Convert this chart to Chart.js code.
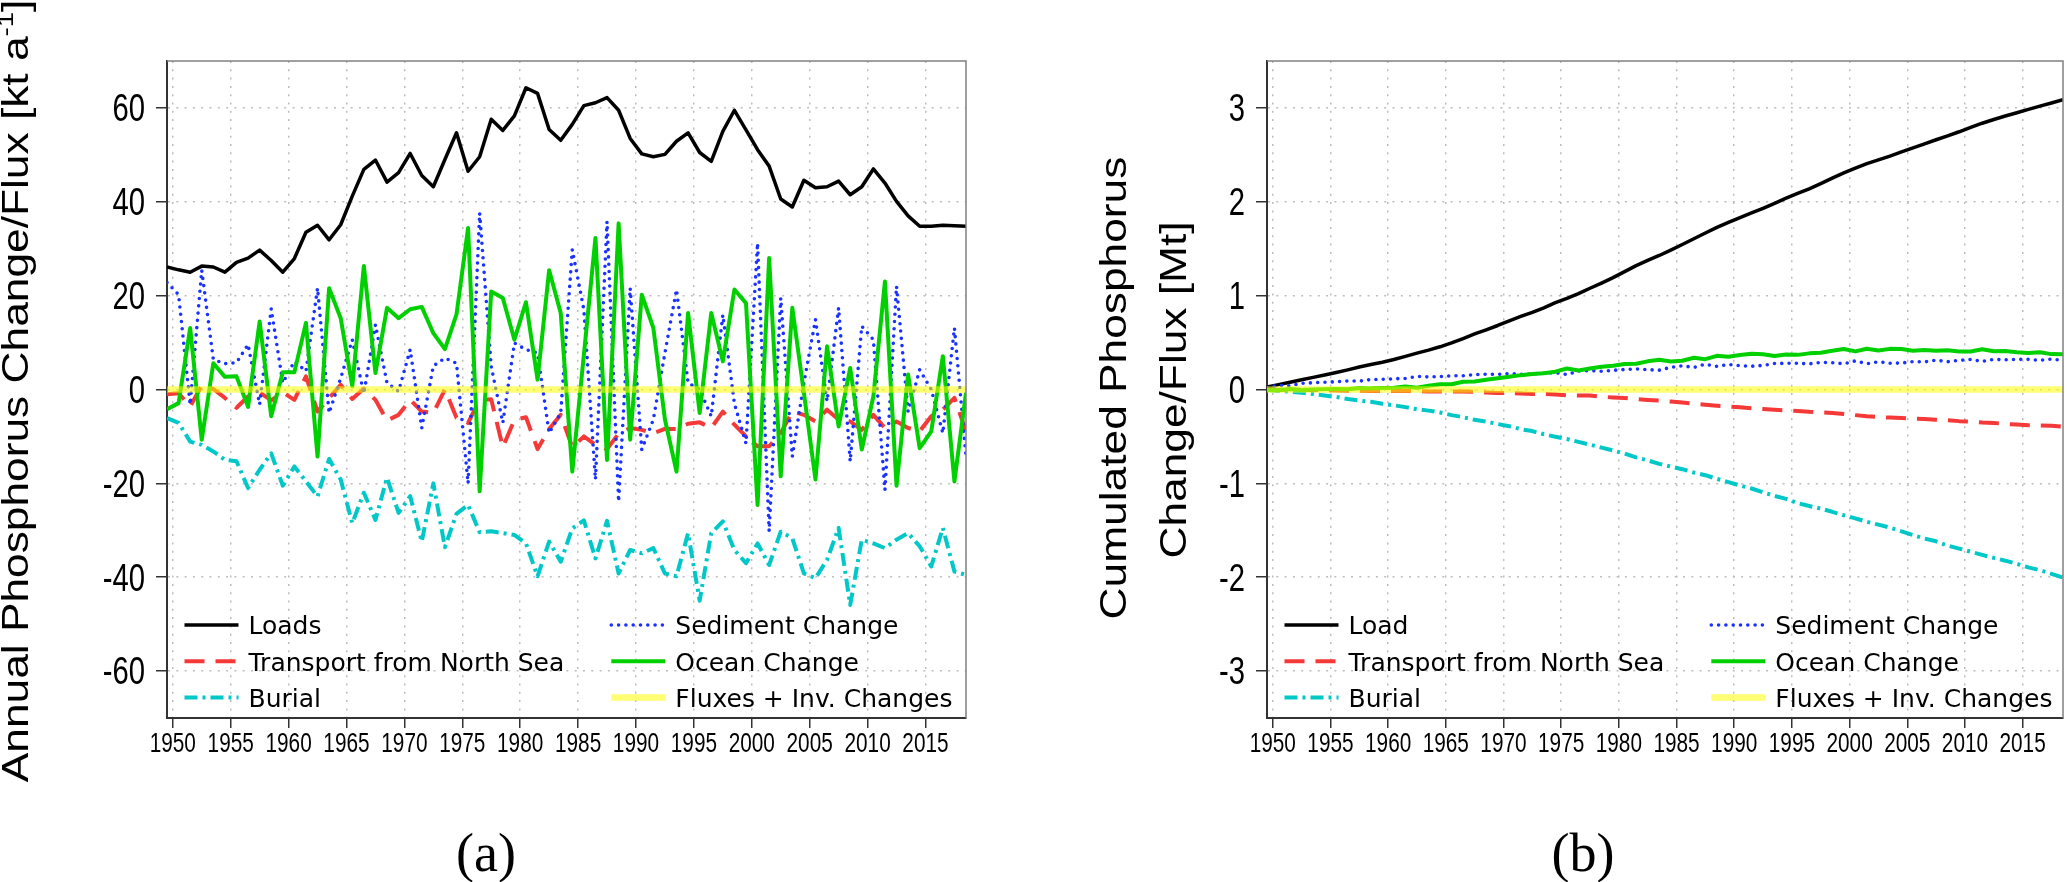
<!DOCTYPE html>
<html>
<head>
<meta charset="utf-8">
<title>Phosphorus budget</title>
<script src="https://cdn.jsdelivr.net/npm/chart.js@4.4.1/dist/chart.umd.min.js"></script>
<style>
  html, body { margin: 0; padding: 0; background: #fff; }
  body { width: 2067px; height: 882px; position: relative; overflow: hidden; }
  canvas { position: absolute; top: 0; }
  #chartA { left: 0; }
  #chartB { left: 1000px; }
  .panel { position: absolute; top: 826px; line-height: 1; font-family: 'Liberation Serif', 'DejaVu Serif', serif; font-size: 54px; transform: translateX(-50%); }
</style>
</head>
<body>
<canvas id="chartA" width="1000" height="882"></canvas>
<canvas id="chartB" width="1067" height="882"></canvas>
<div class="panel" style="left:486px">(a)</div>
<div class="panel" style="left:1583px">(b)</div>
<script>
// Years of the budget, plotted at mid-year
const years = [1949,1950,1951,1952,1953,1954,1955,1956,1957,1958,1959,1960,1961,1962,1963,1964,1965,1966,1967,1968,
  1969,1970,1971,1972,1973,1974,1975,1976,1977,1978,1979,1980,1981,1982,1983,1984,1985,1986,1987,1988,
  1989,1990,1991,1992,1993,1994,1995,1996,1997,1998,1999,2000,2001,2002,2003,2004,2005,2006,2007,2008,
  2009,2010,2011,2012,2013,2014,2015,2016,2017,2018];

// Panel (a): annual change / flux, kt per year
const loads = [26.1,25.5,25.0,26.3,26.1,25.0,27.1,28.0,29.7,27.5,25.0,27.9,33.5,35.0,31.9,35.1,41.2,46.9,48.9,44.2,
  46.2,50.3,45.6,43.2,49.0,54.7,46.5,49.6,57.6,55.2,58.3,64.3,63.1,55.4,53.1,56.5,60.5,61.1,62.2,59.5,
  53.5,50.2,49.6,50.1,52.9,54.7,50.5,48.6,55.0,59.5,55.3,51.1,47.6,40.6,38.9,44.6,43.0,43.2,44.4,41.5,
  43.2,47.0,44.0,40.1,37.0,34.8,34.8,35.0,34.9,34.8];
const transport = [-1.0,-0.8,-3.6,0.8,0.1,-1.8,-3.9,-1.5,-0.6,-2.3,-0.6,-2.2,2.8,-4.7,-1.8,1.0,-2.0,0.2,-2.2,-6.6,
  -5.4,-2.2,-4.7,-5.0,0.0,-6.0,-7.1,-2.2,-2.1,-12.3,-6.5,-5.9,-12.7,-8.4,-5.4,-12.3,-10.0,-11.8,-12.7,-9.4,
  -8.2,-8.6,-9.3,-8.4,-8.4,-7.3,-7.0,-8.2,-4.7,-7.5,-10.0,-12.1,-12.1,-9.3,-4.7,-5.4,-6.8,-4.3,-6.4,-6.8,
  -8.6,-5.4,-8.2,-6.8,-8.2,-8.9,-5.7,-4.3,-1.8,-8.9];
const burial = [-6.1,-7.1,-11.1,-11.8,-13.2,-15.0,-15.3,-21.0,-17.1,-13.6,-20.5,-16.4,-19.6,-22.8,-14.8,-19.2,-28.5,-22.0,-27.8,-18.8,
  -26.3,-22.7,-32.4,-20.0,-33.6,-26.5,-24.6,-30.4,-30.2,-30.6,-31.0,-32.8,-39.8,-32.4,-36.7,-29.6,-27.9,-36.0,-28.0,-39.2,
  -34.2,-34.9,-33.8,-39.2,-39.8,-30.6,-45.0,-30.6,-28.1,-34.2,-37.0,-32.8,-37.4,-30.3,-31.7,-39.2,-40.2,-36.3,-29.5,-45.9,
  -32.0,-32.8,-33.8,-32.0,-30.6,-33.4,-37.7,-29.5,-38.8,-39.5];
const sediment = [22.8,20.2,-3.2,25.4,6.4,5.5,5.7,9.6,-3.2,17.2,1.4,6.0,3.9,21.6,-5.0,2.4,10.6,-0.9,13.8,1.4,
  -0.4,8.5,-8.2,5.0,6.7,5.6,-20.0,37.6,4.9,-7.1,9.9,8.5,7.8,-9.3,-5.0,29.8,17.0,-19.2,35.8,-23.9,
  21.6,-12.8,-6.4,7.8,21.3,1.4,0.0,-5.7,15.9,-3.0,-11.5,31.2,-30.2,19.5,-14.3,1.4,14.9,-2.5,17.4,-15.3,
  13.5,10.6,-21.4,22.0,-4.7,4.2,0.0,-9.3,13.1,-14.3];
const ocean = [-4.2,-2.9,13.1,-10.7,5.6,2.7,2.8,-3.7,14.5,-5.7,3.7,3.7,14.2,-14.3,21.6,15.2,0.7,26.3,3.5,17.4,
  15.2,17.1,17.6,12.0,8.6,16.0,34.4,-21.7,20.9,19.5,10.6,18.6,2.1,25.4,16.3,-17.5,7.4,32.3,-15.0,35.4,
  -10.7,20.2,13.1,-6.4,-17.5,16.3,-5.0,16.3,6.0,21.3,18.4,-24.6,28.0,-18.5,17.4,-0.7,-19.2,9.2,-7.9,4.6,
  -12.8,-1.5,23.0,-20.5,3.2,-12.5,-8.9,7.1,-19.6,-0.7];
const fluxes = [0,0,0,0,0,0,0,0,0,0,0,0,0,0,0,0,0,0,0,0,0,0,0,0,0,0,0,0,0,0,0,0,0,0,0,
  0,0,0,0,0,0,0,0,0,0,0,0,0,0,0,0,0,0,0,0,0,0,0,0,0,0,0,0,0,0,0,0,0,0,0];

// Panel (b): cumulated change / flux, Mt
const cumLoad = [0.026,0.052,0.077,0.103,0.129,0.154,0.181,0.209,0.239,0.266,0.291,0.319,0.353,0.388,0.420,0.455,0.496,0.543,0.592,0.636,
  0.682,0.732,0.778,0.821,0.870,0.925,0.971,1.021,1.079,1.134,1.192,1.256,1.320,1.375,1.428,1.485,1.545,1.606,1.668,1.728,
  1.781,1.832,1.881,1.931,1.984,2.039,2.089,2.138,2.193,2.252,2.308,2.359,2.406,2.447,2.486,2.531,2.574,2.617,2.661,2.703,
  2.746,2.793,2.837,2.877,2.914,2.949,2.984,3.019,3.053,3.088];
const cumTransport = [-0.001,-0.002,-0.005,-0.005,-0.005,-0.006,-0.010,-0.012,-0.012,-0.015,-0.015,-0.017,-0.015,-0.019,-0.021,-0.020,-0.022,-0.022,-0.024,-0.031,
  -0.036,-0.038,-0.043,-0.048,-0.048,-0.054,-0.061,-0.063,-0.065,-0.078,-0.084,-0.090,-0.103,-0.111,-0.117,-0.129,-0.139,-0.151,-0.163,-0.173,
  -0.181,-0.190,-0.199,-0.207,-0.216,-0.223,-0.230,-0.238,-0.243,-0.250,-0.260,-0.273,-0.285,-0.294,-0.299,-0.304,-0.311,-0.315,-0.322,-0.328,
  -0.337,-0.342,-0.351,-0.357,-0.366,-0.374,-0.380,-0.384,-0.386,-0.395];
const cumBurial = [-0.006,-0.013,-0.024,-0.036,-0.049,-0.064,-0.080,-0.101,-0.118,-0.131,-0.152,-0.168,-0.188,-0.211,-0.225,-0.245,-0.273,-0.295,-0.323,-0.342,
  -0.368,-0.391,-0.423,-0.443,-0.477,-0.503,-0.528,-0.558,-0.588,-0.619,-0.650,-0.683,-0.723,-0.755,-0.792,-0.821,-0.849,-0.885,-0.913,-0.952,
  -0.987,-1.022,-1.055,-1.095,-1.134,-1.165,-1.210,-1.241,-1.269,-1.303,-1.340,-1.373,-1.410,-1.440,-1.472,-1.511,-1.551,-1.588,-1.617,-1.663,
  -1.695,-1.728,-1.762,-1.794,-1.824,-1.858,-1.895,-1.925,-1.964,-2.003];
const cumSediment = [0.023,0.043,0.040,0.065,0.072,0.077,0.083,0.092,0.089,0.106,0.108,0.114,0.118,0.139,0.134,0.137,0.147,0.146,0.160,0.162,
  0.161,0.170,0.162,0.167,0.173,0.179,0.159,0.196,0.201,0.194,0.204,0.213,0.220,0.211,0.206,0.236,0.253,0.234,0.270,0.246,
  0.267,0.254,0.248,0.256,0.277,0.279,0.279,0.273,0.289,0.286,0.274,0.305,0.275,0.295,0.280,0.282,0.297,0.294,0.312,0.296,
  0.310,0.320,0.299,0.321,0.316,0.321,0.321,0.311,0.324,0.310];
const cumOcean = [-0.004,-0.007,0.006,-0.005,0.001,0.004,0.006,0.003,0.017,0.012,0.015,0.019,0.033,0.019,0.040,0.056,0.056,0.083,0.086,0.104,
  0.119,0.136,0.153,0.165,0.174,0.190,0.224,0.203,0.224,0.243,0.254,0.272,0.274,0.300,0.316,0.299,0.306,0.338,0.323,0.359,
  0.348,0.368,0.381,0.375,0.357,0.374,0.369,0.385,0.391,0.412,0.431,0.406,0.434,0.416,0.433,0.432,0.413,0.422,0.414,0.419,
  0.406,0.405,0.428,0.407,0.410,0.398,0.389,0.396,0.377,0.376];
const cumFluxes = [0,0,0,0,0,0,0,0,0,0,0,0,0,0,0,0,0,0,0,0,0,0,0,0,0,0,0,0,0,0,0,0,0,0,0,
  0,0,0,0,0,0,0,0,0,0,0,0,0,0,0,0,0,0,0,0,0,0,0,0,0,0,0,0,0,0,0,0,0,0,0];

const xTicks = [1950,1955,1960,1965,1970,1975,1980,1985,1990,1995,2000,2005,2010,2015];
const yTicksA = [-60,-40,-20,0,20,40,60];
const yTicksB = [-3,-2,-1,0,1,2,3];

// Line styles, one per budget term
const styleLoad = {color: '#000000', width: 3.5, dash: [], cap: 'butt'};
const styleTransport = {color: '#f53838', width: 4, dash: [20, 11], cap: 'butt'};
const styleBurial = {color: '#00c8c8', width: 4, dash: [13, 5, 3, 5], cap: 'butt'};
const styleSediment = {color: '#1a32ff', width: 3.6, dash: [0, 7.3], cap: 'round'};
const styleOcean = {color: '#00d000', width: 4, dash: [], cap: 'butt'};
const styleFluxes = {color: 'rgba(255,255,0,0.55)', width: 6.5, dash: [], cap: 'butt'};

const sans = "'Liberation Sans', Arial, sans-serif";

function series(label, values, style, order) {
  return {
    label: label,
    data: values.map(function(v, i) { return {x: years[i] + 0.5, y: v}; }),
    borderColor: style.color,
    borderWidth: style.width,
    borderDash: style.dash,
    borderCapStyle: style.cap,
    borderJoinStyle: 'round',
    pointRadius: 0,
    fill: false,
    tension: 0,
    order: order
  };
}

// Condensed text: the tick labels in the figure are tall and narrow
function narrowText(ctx, text, x, y, size, align) {
  ctx.save();
  ctx.font = size + 'px ' + sans;
  ctx.textBaseline = 'alphabetic';
  ctx.textAlign = align;
  ctx.translate(x, y);
  ctx.scale(0.77, 1);
  ctx.fillText(text, 0, 0);
  ctx.restore();
}

// Draws tick labels, the rotated axis title, the in-plot legend and the upper/right frame
function decor(cfg) {
  return {
    id: 'decor',
    afterDraw: function(chart) {
      let ctx = chart.ctx;
      let area = chart.chartArea;
      let xScale = chart.scales.x;
      let yScale = chart.scales.y;
      ctx.save();

      ctx.strokeStyle = '#808080';
      ctx.lineWidth = 1.5;
      ctx.setLineDash([]);
      ctx.beginPath();
      ctx.moveTo(area.left, area.top);
      ctx.lineTo(area.right, area.top);
      ctx.lineTo(area.right, area.bottom);
      ctx.stroke();

      ctx.fillStyle = '#000';
      xScale.ticks.forEach(function(t) {
        narrowText(ctx, String(t.value), xScale.getPixelForValue(t.value), area.bottom + 34.4, 27, 'center');
      });
      yScale.ticks.forEach(function(t) {
        narrowText(ctx, String(t.value), area.left - 22, yScale.getPixelForValue(t.value) + 13.4, 38, 'right');
      });

      let rowY = [-93, -56.8, -20.5];
      let colX = [17.5, 444.3];
      cfg.legendRows.forEach(function(row, r) {
        let y = area.bottom + rowY[r];
        row.forEach(function(idx, c) {
          let ds = chart.data.datasets[idx];
          let x0 = area.left + colX[c];
          ctx.beginPath();
          ctx.strokeStyle = ds.borderColor;
          ctx.lineWidth = ds.borderWidth;
          ctx.lineCap = ds.borderCapStyle;
          ctx.setLineDash(ds.borderDash);
          ctx.moveTo(x0, y);
          ctx.lineTo(x0 + 54, y);
          ctx.stroke();
          ctx.setLineDash([]);
          ctx.fillStyle = '#000';
          ctx.font = "25px 'DejaVu Sans', sans-serif";
          ctx.textAlign = 'left';
          ctx.textBaseline = 'alphabetic';
          ctx.fillText(ds.label, x0 + 64, y + 9.3);
        });
      });

      cfg.title.forEach(function(line) {
        drawRotated(ctx, line.parts, line.x, line.y, 36, 1.23);
      });
      ctx.restore();
    }
  };
}

function drawRotated(ctx, parts, baseX, centerY, size, stretch) {
  ctx.save();
  ctx.translate(baseX, centerY);
  ctx.rotate(-Math.PI / 2);
  ctx.scale(stretch, 1);
  ctx.fillStyle = '#000';
  ctx.textAlign = 'left';
  ctx.textBaseline = 'alphabetic';
  let widths = parts.map(function(p) {
    ctx.font = (p.sup ? size * 0.62 : size) + 'px ' + sans;
    return ctx.measureText(p.t).width;
  });
  let total = widths.reduce(function(a, b) { return a + b; }, 0);
  let x = -total / 2;
  parts.forEach(function(p, i) {
    ctx.font = (p.sup ? size * 0.62 : size) + 'px ' + sans;
    ctx.fillText(p.t, x, p.sup ? -size * 0.42 : 0);
    x += widths[i];
  });
  ctx.restore();
}

function scalesFor(yMin, yMax, yTicks, yWidth) {
  return {
    x: {
      type: 'linear',
      min: 1949.5,
      max: 2018.5,
      afterBuildTicks: function(scale) { scale.ticks = xTicks.map(function(v) { return {value: v}; }); },
      afterFit: function(scale) { scale.height = 52; },
      ticks: {display: false},
      grid: {color: '#bdbdbd', lineWidth: 1.5, tickColor: '#333', tickLength: 10, tickWidth: 1.5},
      border: {display: true, color: '#333', width: 2, dash: [2, 6.3]}
    },
    y: {
      type: 'linear',
      min: yMin,
      max: yMax,
      afterBuildTicks: function(scale) { scale.ticks = yTicks.map(function(v) { return {value: v}; }); },
      afterFit: function(scale) { scale.width = yWidth; },
      ticks: {display: false},
      grid: {color: '#bdbdbd', lineWidth: 1.5, tickColor: '#333', tickLength: 11, tickWidth: 1.5},
      border: {display: true, color: '#333', width: 2, dash: [2, 6.3]}
    }
  };
}

function buildChart(id, datasets, scales, padding, cfg) {
  return new Chart(document.getElementById(id), {
    type: 'line',
    data: {datasets: datasets},
    options: {
      responsive: false,
      animation: false,
      devicePixelRatio: 1,
      events: [],
      layout: {padding: padding},
      plugins: {legend: {display: false}, tooltip: {enabled: false}},
      scales: scales
    },
    plugins: [decor(cfg)]
  });
}

buildChart('chartA', [
    series('Loads', loads, styleLoad, 6),
    series('Transport from North Sea', transport, styleTransport, 5),
    series('Burial', burial, styleBurial, 4),
    series('Sediment Change', sediment, styleSediment, 3),
    series('Ocean Change', ocean, styleOcean, 2),
    series('Fluxes + Inv. Changes', fluxes, styleFluxes, 1)
  ],
  scalesFor(-70, 70, yTicksA, 167),
  {top: 61, right: 34, left: 0, bottom: 112},
  {
    legendRows: [[0, 3], [1, 4], [2, 5]],
    title: [{x: 28.4, y: 391, parts: [{t: 'Annual Phosphorus Change/Flux [kt a'}, {t: '-1', sup: true}, {t: ']'}]}]
  });

buildChart('chartB', [
    series('Load', cumLoad, styleLoad, 6),
    series('Transport from North Sea', cumTransport, styleTransport, 5),
    series('Burial', cumBurial, styleBurial, 4),
    series('Sediment Change', cumSediment, styleSediment, 3),
    series('Ocean Change', cumOcean, styleOcean, 2),
    series('Fluxes + Inv. Changes', cumFluxes, styleFluxes, 1)
  ],
  scalesFor(-3.5, 3.5, yTicksB, 267),
  {top: 61, right: 4, left: 0, bottom: 112},
  {
    legendRows: [[0, 3], [1, 4], [2, 5]],
    title: [
      {x: 126, y: 388, parts: [{t: 'Cumulated Phosphorus'}]},
      {x: 185.7, y: 390, parts: [{t: 'Change/Flux [Mt]'}]}
    ]
  });
</script>
</body>
</html>
